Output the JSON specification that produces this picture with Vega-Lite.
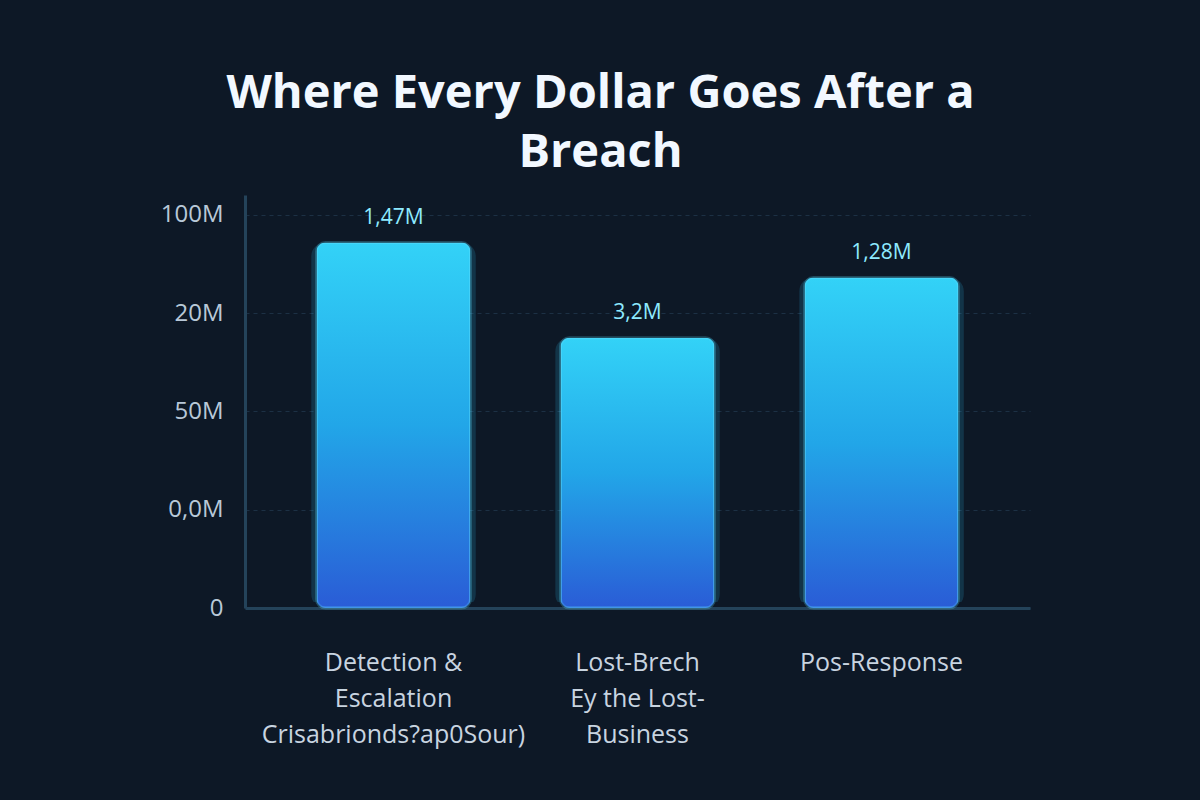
{
  "$schema": "https://vega.github.io/schema/vega-lite/v6.json",
  "autosize": "none",
  "width": 785,
  "height": 413,
  "padding": {"left": 245, "top": 195, "right": 170, "bottom": 192},
  "background": "#0d1826",
  "config": {"view": {"stroke": null}, "font": "Open Sans"},
  "title": {
    "text": ["Where Every Dollar Goes After a", "Breach"],
    "fontSize": 47,
    "fontWeight": "bold",
    "font": "Open Sans",
    "color": "#f2f8ff",
    "lineHeight": 59,
    "anchor": "middle",
    "dx": -37,
    "offset": 18
  },
  "data": {
    "values": [
      {"category": "Detection &|Escalation|Crisabrionds?ap0Sour)", "value": 92.9, "label": "1,47M"},
      {"category": "Lost-Brech|Ey the Lost-|Business", "value": 68.7, "label": "3,2M"},
      {"category": "Pos-Response", "value": 84.0, "label": "1,28M"}
    ]
  },
  "encoding": {
    "x": {
      "field": "category",
      "type": "nominal",
      "sort": null,
      "scale": {"paddingInner": 0.369, "paddingOuter": 0.293},
      "axis": {
        "title": null,
        "labelAngle": 0,
        "labelExpr": "split(datum.label, '|')",
        "labelFontSize": 25,
        "labelColor": "#c8d4e0",
        "labelLineHeight": 36,
        "labelPadding": 54,
        "labelBaseline": "middle",
        "ticks": false,
        "domainColor": "#24435a",
        "domainWidth": 3,
        "labelLimit": 400
      }
    }
  },
  "layer": [
    {
      "mark": {
        "type": "bar",
        "cornerRadius": 14,
        "width": {"band": 1.07},
        "yOffset": -6,
        "y2Offset": 6,
        "color": "#2fc4ff",
        "opacity": 0.16
      },
      "encoding": {
        "y": {"field": "value", "type": "quantitative"}
      }
    },
    {
      "mark": {
        "type": "bar",
        "cornerRadius": 9,
        "stroke": "#5fe0ff",
        "strokeOpacity": 0.25,
        "strokeWidth": 3,
        "color": {
          "gradient": "linear",
          "x1": 0, "y1": 0, "x2": 0, "y2": 1,
          "stops": [
            {"offset": 0, "color": "#33d2f7"},
            {"offset": 0.5, "color": "#22a6e8"},
            {"offset": 1, "color": "#2a5cd6"}
          ]
        }
      },
      "encoding": {
        "y": {
          "field": "value",
          "type": "quantitative",
          "scale": {"domain": [0, 105], "nice": false},
          "axis": {
            "title": null,
            "values": [0, 25, 50, 75, 100],
            "labelExpr": "datum.value == 100 ? '100M' : datum.value == 75 ? '20M' : datum.value == 50 ? '50M' : datum.value == 25 ? '0,0M' : '0'",
            "labelFontSize": 24,
            "labelColor": "#b8c8d8",
            "labelPadding": 22,
            "ticks": false,
            "domainColor": "#24435a",
            "domainWidth": 3,
            "grid": true,
            "gridColor": "#1c3044",
            "gridDash": [4, 4],
            "gridWidth": 1
          }
        }
      }
    },
    {
      "mark": {
        "type": "text",
        "dy": -25,
        "fontSize": 21,
        "color": "#8eeaff",
        "fontWeight": 500
      },
      "encoding": {
        "y": {"field": "value", "type": "quantitative"},
        "text": {"field": "label"}
      }
    }
  ]
}
